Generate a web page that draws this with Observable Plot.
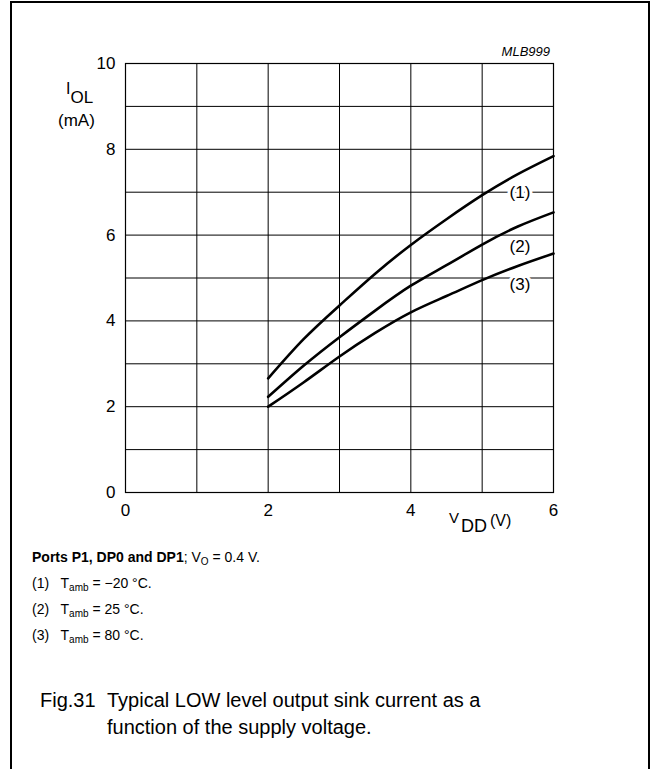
<!DOCTYPE html>
<html>
<head>
<meta charset="utf-8">
<script src="https://cdn.jsdelivr.net/npm/d3@7"></script>
<script src="https://cdn.jsdelivr.net/npm/@observablehq/plot@0.6"></script>
<style>
  body { margin: 0; background: #fff; font-family: "Liberation Sans", Arial, sans-serif; }
  #frame { position: absolute; left: 10px; top: 1px; width: 640px; height: 820px; border: 2px solid #000; border-bottom: none; box-sizing: border-box; }
  #chart { position: absolute; left: 0; top: 0; }
  .cap { position: absolute; font-size: 14px; line-height: 16px; white-space: nowrap; color: #000; }
  .cap sub { font-size: 10px; vertical-align: -3px; line-height: 0; }
  .fig { position: absolute; font-size: 20px; line-height: 27px; white-space: nowrap; color: #000; }
</style>
</head>
<body>
<div id="frame"></div>
<div id="chart"></div>
<div class="cap" style="left:32px; top:549px;"><b>Ports P1, DP0 and DP1</b>; V<sub>O</sub> = 0.4 V.</div>
<div class="cap" style="left:32px; top:575px;">(1)&nbsp;&nbsp; T<sub>amb</sub> = &minus;20 &deg;C.</div>
<div class="cap" style="left:32px; top:601px;">(2)&nbsp;&nbsp; T<sub>amb</sub> = 25 &deg;C.</div>
<div class="cap" style="left:32px; top:627px;">(3)&nbsp;&nbsp; T<sub>amb</sub> = 80 &deg;C.</div>
<div class="fig" style="left:40px; top:687px;">Fig.31</div>
<div class="fig" style="left:107px; top:687px;">Typical LOW level output sink current as a<br>function of the supply voltage.</div>
<script>
// Supply voltage V_DD (V)
const vdd = [2, 2.5, 3, 3.5, 4, 4.5, 5, 5.5, 6];
// Output sink current I_OL (mA) per ambient temperature
const iolMinus20 = [2.66, 3.58, 4.36, 5.1, 5.77, 6.37, 6.93, 7.42, 7.84];
const iol25 = [2.23, 2.96, 3.62, 4.24, 4.82, 5.3, 5.78, 6.2, 6.53];
const iol80 = [2.0, 2.57, 3.17, 3.72, 4.2, 4.58, 4.95, 5.28, 5.57];
const seriesNames = ["(1)", "(2)", "(3)"];
const seriesValues = [iolMinus20, iol25, iol80];
// curve label anchor positions (data units)
const labelX = [5.53, 5.53, 5.53];
const labelY = [7.0, 5.73, 4.85];
const xTicks = [0, 2, 4, 6];
const yTicks = [0, 2, 4, 6, 8, 10];

const rows = seriesNames.flatMap((s, i) => vdd.map((v, j) => ({series: s, vdd: v, iol: seriesValues[i][j]})));
const labels = seriesNames.map((s, i) => ({series: s, x: labelX[i], y: labelY[i]}));

const W = 655, H = 540;
const chart = Plot.plot({
  width: W,
  height: H,
  marginLeft: 125,
  marginRight: 102,
  marginTop: 63,
  marginBottom: 48,
  style: { fontFamily: "'Liberation Sans', Arial, sans-serif", fontSize: "17px", background: "transparent", color: "#000" },
  x: { domain: [0, 6] },
  y: { domain: [0, 10] },
  marks: [
    Plot.gridX(d3.range(0, 7), { stroke: "#000", strokeOpacity: 1, strokeWidth: 1 }),
    Plot.gridY(d3.range(0, 11), { stroke: "#000", strokeOpacity: 1, strokeWidth: 1 }),
    Plot.frame({ stroke: "#000", strokeWidth: 1.2 }),
    Plot.axisX(xTicks, { tickSize: 0, tickPadding: 11, fontSize: 17, label: null }),
    Plot.axisY(yTicks, { tickSize: 0, tickPadding: 10, fontSize: 17, label: null }),
    Plot.line(rows, { x: "vdd", y: "iol", z: "series", stroke: "#000", strokeWidth: 2.6, curve: "natural" }),
    Plot.text(labels, { x: "x", y: "y", text: "series", fontSize: 17, fill: "#000", stroke: "#fff", strokeWidth: 6 })
  ]
});
document.getElementById("chart").appendChild(chart);

// Axis titles with subscripts and figure code
const svg = d3.select(chart);
const ylab = svg.append("text").attr("x", 66).attr("y", 94).attr("text-anchor", "start").attr("font-size", 16).attr("fill", "#000");
ylab.append("tspan").text("I");
ylab.append("tspan").attr("dy", 9).attr("font-size", 17).text("OL");
svg.append("text").attr("x", 58).attr("y", 126).attr("text-anchor", "start").attr("font-size", 17).attr("fill", "#000").text("(mA)");

const xlab = svg.append("text").attr("x", 449).attr("y", 523).attr("text-anchor", "start").attr("font-size", 15).attr("fill", "#000");
xlab.append("tspan").text("V");
xlab.append("tspan").attr("dy", 9).attr("dx", 2).attr("font-size", 18).text("DD");
xlab.append("tspan").attr("dy", -6).attr("dx", 3).attr("font-size", 16).text("(V)");

svg.append("text").attr("x", 550).attr("y", 56).attr("text-anchor", "end").attr("font-size", 13)
  .attr("font-style", "italic").attr("fill", "#000").text("MLB999");
</script>
</body>
</html>
